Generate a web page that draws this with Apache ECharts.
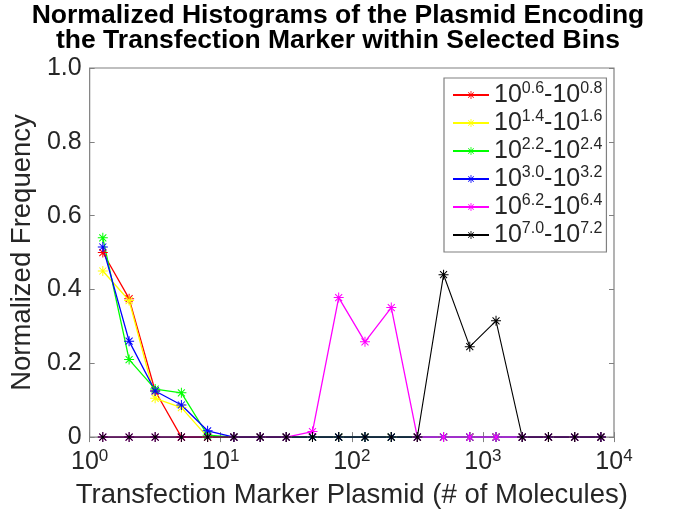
<!DOCTYPE html>
<html>
<head>
<meta charset="utf-8">
<script src="https://cdn.jsdelivr.net/npm/echarts@6/dist/echarts.min.js"></script>
<style>
html,body{margin:0;padding:0;background:#fff;}
#chart{width:676px;height:514px;}
</style>
</head>
<body>
<div id="chart"></div>
<script>
// Bin centres (# of molecules) on the log x axis
var binCenters = [1.26, 2.00, 3.16, 5.01, 7.94, 12.6, 20.0, 31.6, 50.1, 79.4, 126, 200, 316, 501, 794, 1259, 1995, 3162, 5012, 7943];

// Legend labels (exponent ranges)
var rangeLo = ['0.6', '1.4', '2.2', '3.0', '6.2', '7.0'];
var rangeHi = ['0.8', '1.6', '2.4', '3.2', '6.4', '7.2'];

// Normalized frequencies per selected bin
var redVals     = [0.50, 0.375, 0.125, 0, 0, 0, 0, 0, 0, 0, 0, 0, 0, 0, 0, 0, 0, 0, 0, 0];
var yellowVals  = [0.45, 0.37, 0.105, 0.08, 0, 0, 0, 0, 0, 0, 0, 0, 0, 0, 0, 0, 0, 0, 0, 0];
var greenVals   = [0.54, 0.21, 0.13, 0.12, 0.005, 0, 0, 0, 0, 0, 0, 0, 0, 0, 0, 0, 0, 0, 0, 0];
var blueVals    = [0.515, 0.26, 0.125, 0.087, 0.017, 0, 0, 0, 0, 0, 0, 0, 0, 0, 0, 0, 0, 0, 0, 0];
var magentaVals = [0, 0, 0, 0, 0, 0, 0, 0, 0.015, 0.378, 0.258, 0.351, 0, 0, 0, 0, 0, 0, 0, 0];
var blackVals   = [0, 0, 0, 0, 0, 0, 0, 0, 0, 0, 0, 0, 0, 0.44, 0.245, 0.315, 0, 0, 0, 0];

var seriesVals = [redVals, yellowVals, greenVals, blueVals, magentaVals, blackVals];
var colors = ['#ff0000', '#ffff00', '#00ff00', '#0000ff', '#ff00ff', '#000000'];

// y tick labels
var yTicks = [0, 0.2, 0.4, 0.6, 0.8, 1.0];
var yTickLabels = ['0', '0.2', '0.4', '0.6', '0.8', '1.0'];

var FONT = '"Liberation Sans", Arial, Helvetica, sans-serif';
var AXIS_COLOR = '#808080';
var TEXT_COLOR = '#262626';

var STAR = 'path://M9 0 H11 V20 H9 Z M0 9 H20 V11 H0 Z M2.3 3.7 L3.7 2.3 L17.7 16.3 L16.3 17.7 Z M16.3 2.3 L17.7 3.7 L3.7 17.7 L2.3 16.3 Z';

var names = rangeLo.map(function (lo, i) { return lo + '|' + rangeHi[i]; });

var series = seriesVals.map(function (vals, i) {
  return {
    name: names[i],
    type: 'line',
    xAxisIndex: 0,
    yAxisIndex: 0,
    data: vals.map(function (v, k) { return [binCenters[k], v]; }),
    symbol: STAR,
    symbolSize: 10,
    showAllSymbol: true,
    lineStyle: { color: colors[i], width: i === 5 ? 1.1 : 1.3 },
    itemStyle: { color: colors[i] },
    emphasis: { disabled: true },
    animation: false
  };
});

var chart = echarts.init(document.getElementById('chart'), null, { renderer: 'canvas' });

var tickStyle = { show: true, inside: true, length: 5, lineStyle: { color: AXIS_COLOR, width: 1 } };

chart.setOption({
  animation: false,
  backgroundColor: '#fff',
  title: {
    text: 'Normalized Histograms of the Plasmid Encoding\nthe Transfection Marker within Selected Bins',
    left: 'center',
    top: 3,
    padding: 0,
    textStyle: { fontFamily: FONT, fontSize: 26.5, fontWeight: 'bold', color: '#000', lineHeight: 25 }
  },
  grid: {
    left: 86, top: 68, right: 62, bottom: 76,
    show: true, borderColor: AXIS_COLOR, borderWidth: 1.2, backgroundColor: '#fff'
  },
  legend: {
    orient: 'vertical',
    left: 444, top: 78,
    padding: [3, 4, 3, 8],
    itemGap: 0,
    itemWidth: 36,
    itemHeight: 10,
    backgroundColor: '#fff',
    borderColor: AXIS_COLOR,
    borderWidth: 1.2,
    borderRadius: 0,
    selectedMode: false,
    formatter: function (name) {
      var p = name.split('|');
      return '10{sup|' + p[0] + '}-10{sup|' + p[1] + '}';
    },
    textStyle: {
      fontFamily: FONT, fontSize: 25, color: TEXT_COLOR, lineHeight: 28,
      rich: { sup: { fontFamily: FONT, fontSize: 16, color: TEXT_COLOR, lineHeight: 13, verticalAlign: 'top' } }
    }
  },
  xAxis: [{
    type: 'log', logBase: 10, min: 1, max: 10000,
    position: 'bottom',
    name: 'Transfection Marker Plasmid (# of Molecules)',
    nameLocation: 'middle', nameGap: 35,
    nameTextStyle: { fontFamily: FONT, fontSize: 27.5, color: TEXT_COLOR },
    axisLine: { show: false },
    axisTick: tickStyle,
    minorTick: { show: false },
    splitLine: { show: false },
    axisLabel: {
      margin: 11, fontFamily: FONT, fontSize: 25, color: TEXT_COLOR, lineHeight: 28,
      formatter: function (v) { return '10{sup|' + Math.round(Math.log10(v)) + '}'; },
      rich: { sup: { fontFamily: FONT, fontSize: 17, color: TEXT_COLOR, lineHeight: 13, verticalAlign: 'top' } }
    }
  }, {
    type: 'log', logBase: 10, min: 1, max: 10000,
    position: 'top',
    axisLine: { show: false },
    axisTick: tickStyle,
    axisLabel: { show: false },
    splitLine: { show: false }
  }],
  yAxis: [{
    type: 'value', min: 0, max: 1, interval: 0.2,
    position: 'left',
    name: 'Normalized Frequency',
    nameLocation: 'middle', nameGap: 52,
    nameTextStyle: { fontFamily: FONT, fontSize: 27.5, color: TEXT_COLOR },
    axisLine: { show: false },
    axisTick: tickStyle,
    splitLine: { show: false },
    axisLabel: {
      margin: 8, fontFamily: FONT, fontSize: 25, color: TEXT_COLOR,
      formatter: function (v) {
        var idx = yTicks.findIndex(function (t) { return Math.abs(t - v) < 1e-9; });
        return idx >= 0 ? yTickLabels[idx] : '';
      }
    }
  }, {
    type: 'value', min: 0, max: 1, interval: 0.2,
    position: 'right',
    axisLine: { show: false },
    axisTick: tickStyle,
    axisLabel: { show: false },
    splitLine: { show: false }
  }],
  series: series
});
</script>
</body>
</html>
